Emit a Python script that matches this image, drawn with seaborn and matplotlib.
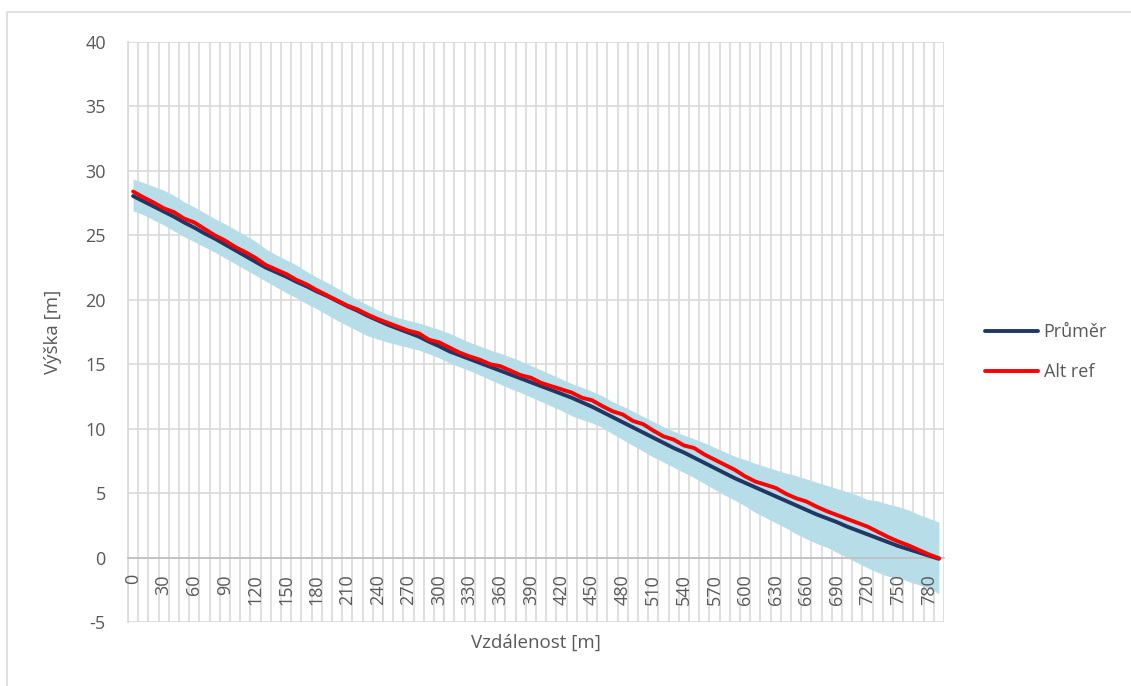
import numpy as np
import pandas as pd
import matplotlib
matplotlib.use("Agg")
import matplotlib.pyplot as plt
from matplotlib.patches import Rectangle
import seaborn as sns

# vzdalenost po 10 m
vzdalenost = list(range(0, 800, 10))

prumer = [28.05, 27.65, 27.25, 26.85, 26.45, 26.0, 25.6, 25.15, 24.75, 24.3,
          23.85, 23.4, 22.95, 22.5, 22.15, 21.8, 21.4, 21.05, 20.65, 20.3,
          19.9, 19.5, 19.15, 18.75, 18.4, 18.05, 17.75, 17.45, 17.15, 16.75,
          16.4, 16.0, 15.7, 15.4, 15.1, 14.8, 14.5, 14.2, 13.9, 13.6,
          13.3, 13.0, 12.7, 12.4, 12.05, 11.7, 11.3, 10.9, 10.5, 10.1,
          9.7, 9.3, 8.9, 8.5, 8.15, 7.75, 7.35, 6.95, 6.55, 6.15,
          5.8, 5.45, 5.1, 4.75, 4.4, 4.05, 3.7, 3.35, 3.05, 2.75,
          2.4, 2.1, 1.8, 1.5, 1.2, 0.9, 0.65, 0.4, 0.15, -0.1]

alt_ref = [28.4, 27.95, 27.55, 27.1, 26.8, 26.3, 26.0, 25.5, 25.0, 24.6,
           24.1, 23.7, 23.25, 22.7, 22.35, 22.0, 21.55, 21.2, 20.75, 20.35,
           19.95, 19.55, 19.25, 18.85, 18.5, 18.2, 17.9, 17.6, 17.4, 16.9,
           16.7, 16.3, 15.9, 15.6, 15.35, 15.0, 14.85, 14.5, 14.15, 13.95,
           13.55, 13.3, 13.05, 12.8, 12.4, 12.2, 11.75, 11.35, 11.1, 10.6,
           10.35, 9.85, 9.4, 9.15, 8.7, 8.5, 8.0, 7.6, 7.2, 6.8,
           6.3, 5.9, 5.65, 5.4, 4.95, 4.6, 4.35, 3.95, 3.6, 3.3,
           3.0, 2.7, 2.4, 2.0, 1.6, 1.25, 0.95, 0.6, 0.25, -0.05]

horni = [29.35, 29.1, 28.8, 28.5, 28.1, 27.6, 27.2, 26.75, 26.3, 25.9,
         25.45, 25.0, 24.55, 23.95, 23.5, 23.1, 22.7, 22.2, 21.75, 21.35,
         20.9, 20.45, 20.0, 19.6, 19.2, 18.85, 18.6, 18.4, 18.2, 17.95,
         17.7, 17.4, 17.05, 16.7, 16.4, 16.1, 15.85, 15.55, 15.25, 14.9,
         14.55, 14.2, 13.85, 13.5, 13.2, 12.9, 12.55, 12.1, 11.75, 11.35,
         10.95, 10.55, 10.15, 9.8, 9.5, 9.2, 8.9, 8.55, 8.2, 7.85,
         7.6, 7.3, 7.05, 6.8, 6.55, 6.35, 6.1, 5.85, 5.6, 5.35,
         5.1, 4.85, 4.5, 4.4, 4.15, 3.95, 3.7, 3.35, 3.05, 2.75]

dolni = [26.9, 26.6, 26.2, 25.8, 25.35, 24.9, 24.5, 24.1, 23.7, 23.25,
         22.8, 22.35, 21.9, 21.45, 21.0, 20.55, 20.15, 19.7, 19.3, 18.85,
         18.4, 18.0, 17.6, 17.2, 16.95, 16.7, 16.5, 16.3, 16.1, 15.8,
         15.5, 15.1, 14.8, 14.5, 14.15, 13.8, 13.45, 13.1, 12.8, 12.45,
         12.1, 11.75, 11.4, 11.0, 10.7, 10.45, 10.1, 9.6, 9.15, 8.7,
         8.25, 7.8, 7.4, 7.0, 6.6, 6.2, 5.75, 5.3, 4.85, 4.45,
         4.0, 3.5, 3.1, 2.7, 2.3, 1.85, 1.45, 1.1, 0.8, 0.4,
         0.0, -0.4, -0.8, -1.15, -1.45, -1.55, -1.85, -2.1, -2.4, -2.8]

x_popisky = list(range(0, 790, 30))
y_popisky = list(range(-5, 41, 5))

sns.set_style("white")
plt.rcParams['font.family'] = ['Open Sans', 'DejaVu Sans']
plt.rcParams['axes.unicode_minus'] = False
seda_text = '#595959'
seda_mrizka = '#D9D9D9'

df = pd.DataFrame({
    'Vzdálenost': vzdalenost * 2,
    'Výška': prumer + alt_ref,
    'Řada': ['Průměr'] * len(prumer) + ['Alt ref'] * len(alt_ref),
})

W, H = 1131, 686
fig = plt.figure(figsize=(W / 100, H / 100), dpi=100)
ax = fig.add_axes([128 / W, 1 - 622 / H, (944 - 128) / W, (622 - 42) / H])

ax.set_xlim(-5, 795)
ax.set_ylim(-5, 40)

# mrizka rucne pod pasem, aby popisky os mohly byt nad nim
ax.vlines(np.arange(-5, 796, 10), -5, 40, color=seda_mrizka, linewidth=1.2, zorder=0.3)
ax.hlines(y_popisky, -5, 795, color=seda_mrizka, linewidth=1.2, zorder=0.3)

# pas rozptylu
ax.fill_between(vzdalenost, dolni, horni, color='#B7DDE8', linewidth=0, zorder=1)

sns.lineplot(data=df, x='Vzdálenost', y='Výška', hue='Řada',
             palette={'Průměr': '#203864', 'Alt ref': '#FF0000'},
             linewidth=2.8, sort=False, ax=ax, zorder=3)

ax.spines['bottom'].set_position(('data', 0))
ax.set_axisbelow(False)

ax.set_xlim(-5, 795)
ax.set_ylim(-5, 40)
ax.set_xticks(x_popisky)
ax.set_xticklabels([str(v) for v in x_popisky])
ax.set_yticks(y_popisky)
ax.grid(False)

for s in ['top', 'right']:
    ax.spines[s].set_visible(False)
ax.spines['left'].set_color(seda_mrizka)
ax.spines['left'].set_linewidth(1.2)
ax.spines['bottom'].set_color('#BFBFBF')
ax.spines['bottom'].set_linewidth(1.2)

ax.tick_params(axis='x', which='both', length=0, pad=12, labelsize=13,
               labelcolor=seda_text, labelrotation=90)
ax.tick_params(axis='y', length=0, pad=16, labelsize=13, labelcolor=seda_text)

ax.set_xlabel('')
ax.set_ylabel('')
fig.text(536 / W, 1 - 643 / H, 'Vzdálenost [m]', ha='center', va='center',
         fontsize=13.5, color=seda_text)
fig.text(53 / W, 1 - 332 / H, 'Výška [m]', ha='center', va='center',
         rotation=90, fontsize=13.5, color=seda_text)

ax.legend(loc='center left', bbox_to_anchor=(985 / W, 1 - 352 / H),
          bbox_transform=fig.transFigure, frameon=False, fontsize=13,
          labelcolor=seda_text, handlelength=2.95, handletextpad=0.3,
          labelspacing=1.2, borderpad=0, borderaxespad=0)

# ramecek grafu
fig.add_artist(Rectangle((7 / W, -0.05), 1.1, 1 - 12 / H + 0.05,
                         transform=fig.transFigure, fill=False,
                         edgecolor=seda_mrizka, linewidth=1.2))

fig.savefig('out.png', dpi=100)
